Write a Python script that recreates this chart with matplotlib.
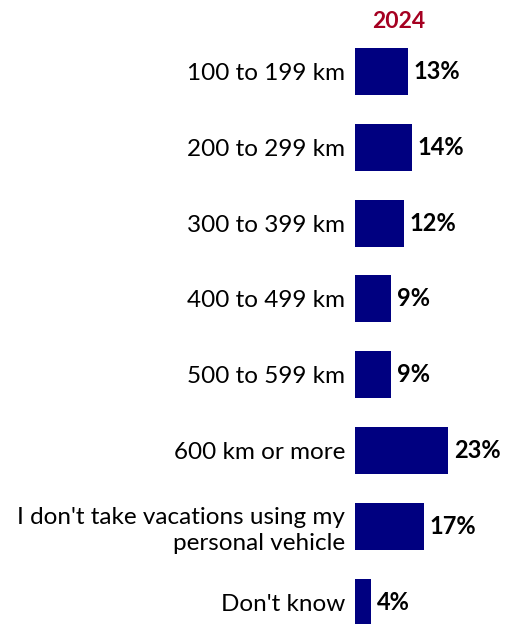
import matplotlib
matplotlib.use("Agg")
import matplotlib.pyplot as plt

categories = ["100 to 199 km", "200 to 299 km", "300 to 399 km", "400 to 499 km",
              "500 to 599 km", "600 km or more",
              "I don't take vacations using my\npersonal vehicle", "Don't know"]
values_2024 = [13, 14, 12, 9, 9, 23, 17, 4]
series_name = "2024"

plt.rcParams['font.family'] = ['Lato', 'DejaVu Sans']

W, H = 506, 624
fig = plt.figure(figsize=(W/100, H/100), dpi=100)
ax_left = 355 / W
ax_right = 506 / W
ax_top = 1 - 34 / H
ax = fig.add_axes([ax_left, 0, ax_right - ax_left, ax_top])

pos = list(range(len(categories)))
ax.barh(pos, values_2024, height=0.62, color="#000080")
ax.set_ylim(7.29, -0.495)
ax.set_xlim(0, 151 / 4.05)

for p, v in zip(pos, values_2024):
    ax.annotate(f"{v}%", (v, p), xytext=(4.3, 0), textcoords="offset points",
                ha="left", va="center", fontsize=17, fontweight="bold", color="black")

ax.set_yticks(pos)
ax.set_yticklabels(categories, fontsize=17.5, ha="right", linespacing=1.3)
ax.tick_params(axis="y", length=0, pad=7.2)
ax.set_xticks([])
for s in ax.spines.values():
    s.set_visible(False)

fig.text(399 / W, 1 - 21 / H, series_name, ha="center", va="center",
         fontsize=16.5, fontweight="bold", color="#A50021")

fig.savefig("out.png", dpi=100)
